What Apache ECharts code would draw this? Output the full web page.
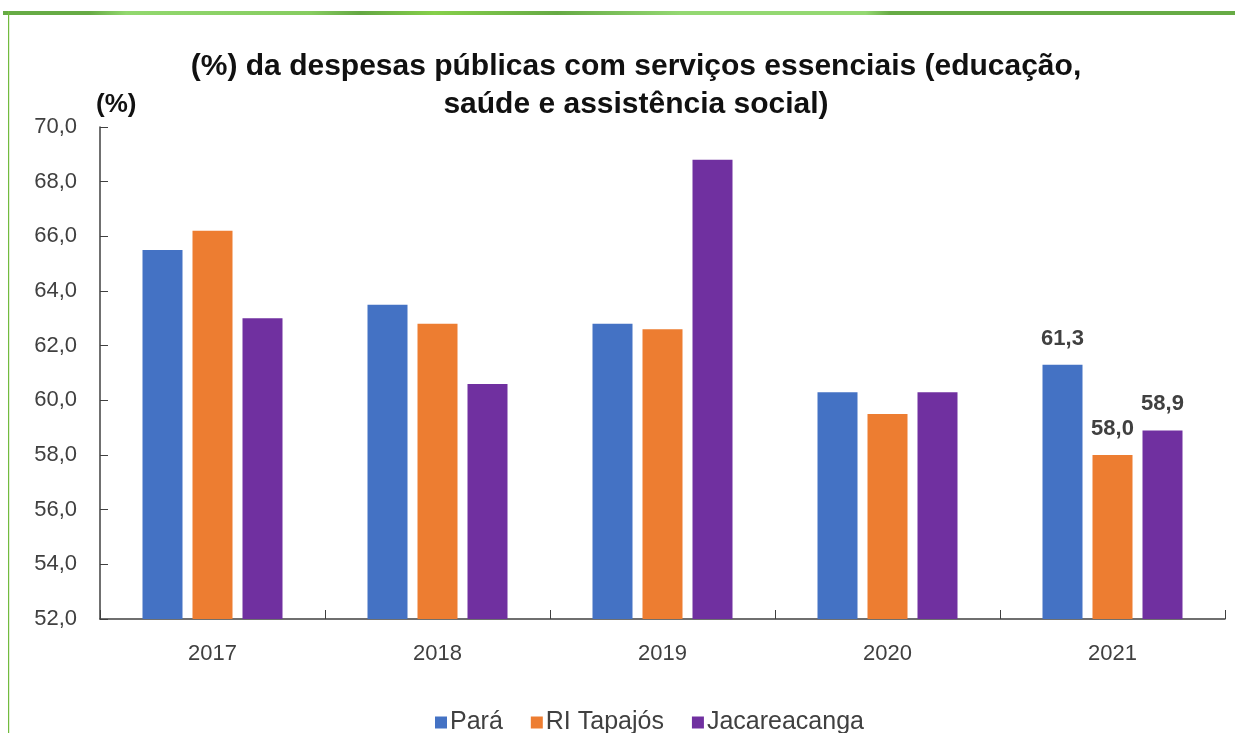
<!DOCTYPE html>
<html>
<head>
<meta charset="utf-8">
<script src="https://cdn.jsdelivr.net/npm/echarts@6/dist/echarts.min.js"></script>
<style>
html,body{margin:0;padding:0;background:#fff;}
#chart{width:1235px;height:733px;}
</style>
</head>
<body>
<div id="chart"></div>
<script>
const categories = ['2017', '2018', '2019', '2020', '2021'];
const para = [65.5, 63.5, 62.8, 60.3, 61.3];
const riTapajos = [66.2, 62.8, 62.6, 59.5, 58.0];
const jacareacanga = [63.0, 60.6, 68.8, 60.3, 58.9];
const seriesNames = ['Pará', 'RI Tapajós', 'Jacareacanga'];
const labelledCategory = '2021';
const yTicks = { min: 52, max: 70, interval: 2 };

const fmt = v => Number(v).toFixed(1).replace('.', ',');
const FONT = '"Liberation Sans", Arial, sans-serif';

function labelFor(idx) {
  return {
    show: true, position: 'top', distance: 15,
    fontFamily: FONT, fontSize: 22, fontWeight: 'bold', color: '#404040',
    formatter: p => (categories[p.dataIndex] === labelledCategory ? fmt(p.value) : '')
  };
}
const colors = ['#4472C4', '#ED7D31', '#7030A0'];
const dataSets = [para, riTapajos, jacareacanga];

const chart = echarts.init(document.getElementById('chart'), null, { renderer: 'canvas' });
chart.setOption({
  animation: false,
  backgroundColor: '#fff',
  color: colors,
  title: {
    text: '(%) da despesas públicas com serviços essenciais (educação,\nsaúde e assistência social)',
    left: 636, top: 48, textAlign: 'center',
    padding: 0,
    textStyle: { fontFamily: FONT, fontSize: 30, fontWeight: 'bold', color: '#111', lineHeight: 38 }
  },
  graphic: [
    { type: 'rect', shape: { x: 3, y: 11, width: 1232, height: 4 }, silent: true,
      style: { fill: new echarts.graphic.LinearGradient(0, 0, 1, 0, [
        { offset: 0, color: '#67ab45' }, { offset: 0.07, color: '#67ab45' }, { offset: 0.1, color: '#92d86e' },
        { offset: 0.25, color: '#86cc60' }, { offset: 0.29, color: '#64a743' },
        { offset: 0.35, color: '#86d04a' }, { offset: 0.45, color: '#66aa45' },
        { offset: 0.55, color: '#94d872' }, { offset: 0.7, color: '#94d872' },
        { offset: 0.72, color: '#67ab45' }, { offset: 1, color: '#67ab45' }]) } },
    { type: 'rect', shape: { x: 8, y: 11, width: 1.2, height: 722 }, silent: true,
      style: { fill: '#72bb3e' } }
  ],
  legend: {
    data: seriesNames, top: 705, left: 430,
    icon: 'rect', itemWidth: 12, itemHeight: 12, itemGap: 28,
    textStyle: { fontFamily: FONT, fontSize: 25, color: '#404040', padding: [0, 0, 0, -2] }
  },
  grid: { left: 100, right: 10, top: 127, bottom: 114, containLabel: false },
  xAxis: {
    type: 'category', data: categories, boundaryGap: true,
    axisLine: { lineStyle: { color: '#404040', width: 1.5 } },
    axisTick: { show: true, inside: true, length: 9, alignWithLabel: false, lineStyle: { color: '#404040' } },
    axisLabel: { fontFamily: FONT, fontSize: 22, color: '#404040', margin: 24 }
  },
  yAxis: {
    type: 'value', min: yTicks.min, max: yTicks.max, interval: yTicks.interval,
    name: '(%)', nameLocation: 'end', nameGap: 22,
    nameTextStyle: { fontFamily: FONT, fontSize: 26, fontWeight: 'bold', color: '#111', align: 'left', verticalAlign: 'middle', padding: [0, 0, 0, -4] },
    splitLine: { show: false },
    axisLine: { show: true, lineStyle: { color: '#404040', width: 1.5 } },
    axisTick: { show: true, inside: true, length: 8, lineStyle: { color: '#404040' } },
    axisLabel: { fontFamily: FONT, fontSize: 22, color: '#404040', margin: 23, formatter: v => fmt(v) }
  },
  series: dataSets.map((d, i) => ({
    name: seriesNames[i], type: 'bar', data: d,
    barWidth: 40, barGap: '25%',
    itemStyle: { color: colors[i] },
    label: labelFor(i)
  }))
});
</script>
</body>
</html>
